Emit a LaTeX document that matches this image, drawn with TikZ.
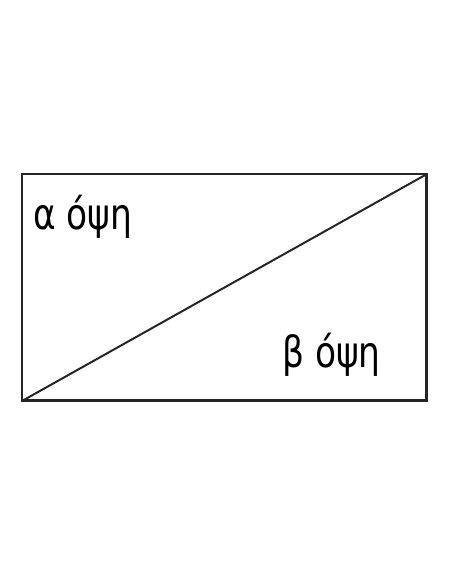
\documentclass[tikz,border=0pt]{standalone}
\usepackage{fontspec}
\setmainfont{DejaVu Sans Condensed}
\begin{document}
\begin{tikzpicture}[x=1pt,y=1pt,
  frame/.style={draw=black!85,line width=2.2pt},
  lbl/.style={anchor=base west,inner sep=0pt,font=\fontsize{43}{47}\selectfont,xscale=0.89}]
\useasboundingbox (0,0) rectangle (452,584);
\coordinate (bl) at (22,183);
\coordinate (tr) at (427,410);
\draw[frame] (bl) rectangle (tr);
\draw[black!85,line width=1.2pt] (426,183) -- (426,409) (23,184) -- (426,184);
\draw[frame,line width=2pt] (bl) -- (tr);
\node[lbl] (a) at (33,354) {α όψη};
\node[lbl] (b) at (282,216) {β όψη};
\end{tikzpicture}
\end{document}
